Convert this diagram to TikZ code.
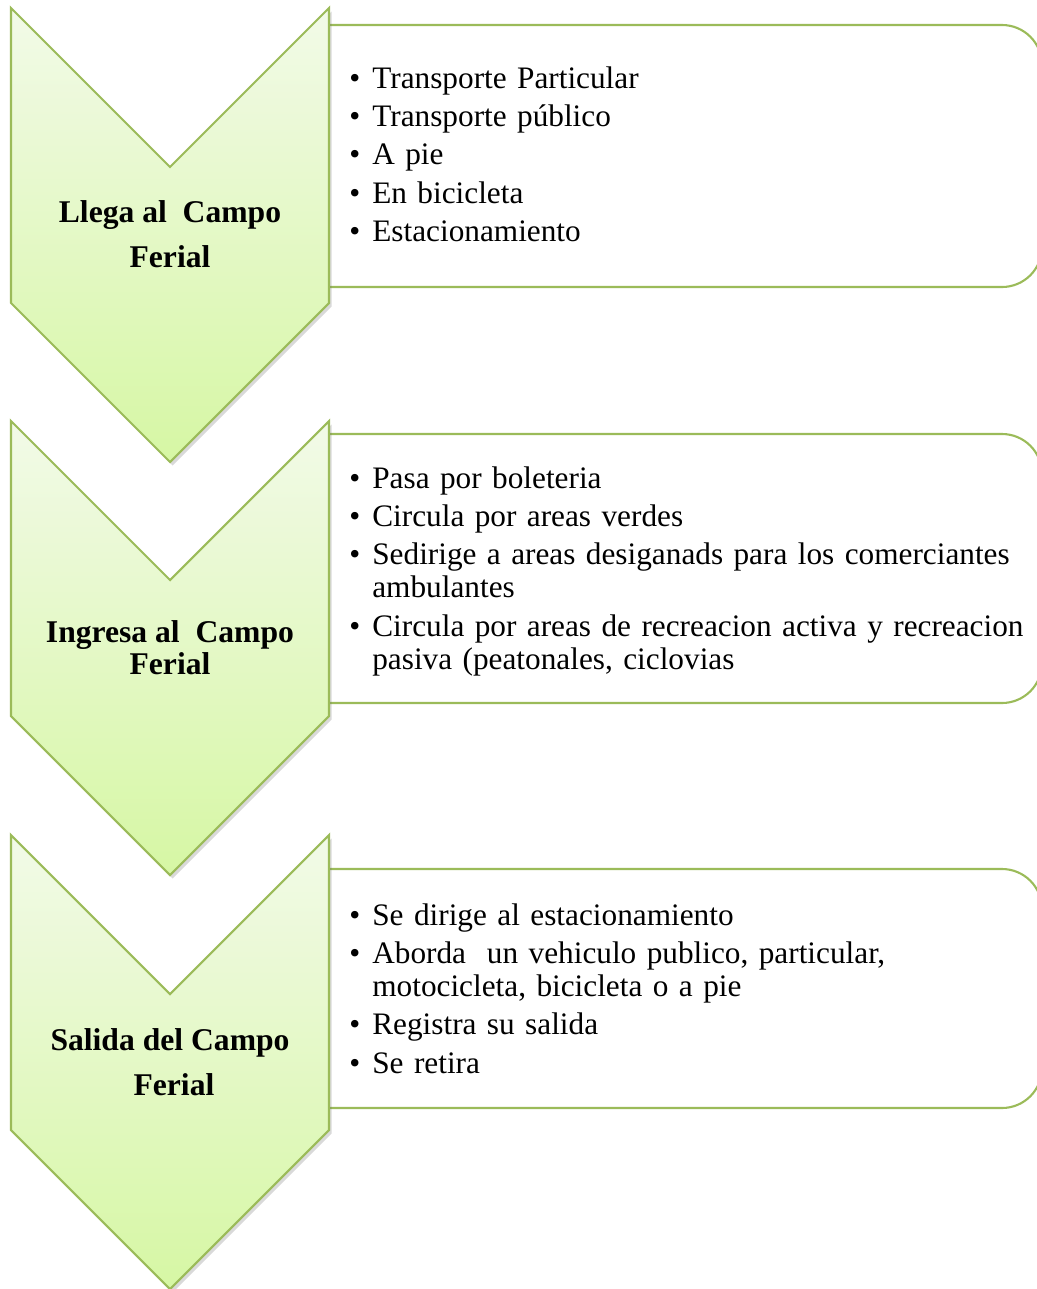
\documentclass[tikz,border=0pt]{standalone}
\usepackage{fontspec}
\setmainfont{Liberation Serif}
\usetikzlibrary{shadows}
\definecolor{chevline}{RGB}{155,187,89}
\definecolor{chevtop}{RGB}{242,250,232}
\definecolor{chevbot}{RGB}{214,247,164}
\tikzset{
  chev/.style={draw=chevline, line width=1.2pt, top color=chevtop, bottom color=chevbot,
    drop shadow={shadow xshift=1.5pt, shadow yshift=-2pt, opacity=.25, fill=black!60}},
  listbox/.style={draw=chevline, line width=1.2pt, rounded corners=0.8cm},
  steplabel/.style={font=\fontsize{18}{18.2}\selectfont\bfseries, align=center, anchor=base},
  itemlist/.style={font=\fontsize{17.8}{18.8}\selectfont, text width=14cm, align=left,
    anchor=base west, inner sep=0pt}
}
% chevron whose top corners sit at y=#1 (px)
\def\chevron(#1){\draw[chev] (11,#1) -- (170,#1+159) -- (329,#1) -- (329,#1+295)
  -- (170,#1+454) -- (11,#1+295) -- cycle;}
% box on the right, top at #1, bottom at #2
\def\listframe(#1:#2){\draw[listbox] (329,#1) -- (1042,#1) -- (1042,#2) -- (329,#2);}
\newcommand\itm{\makebox[0.46cm][l]{\textbullet}}
\newcommand\cont{\hspace*{0.46cm}}

\begin{document}
\begin{tikzpicture}[x=0.02cm,y=-0.02cm]
			%%%%% START %%%%%
			\useasboundingbox (0,0) rectangle (1037,1289);
			
			\listframe(25:287)
			\listframe(434:703)
			\listframe(869:1108)
			
			\chevron(8)
			\chevron(421)
			\chevron(835)
			
			% base of these labels is the last line
			\node[steplabel] (llega) at (170,267) {Llega al\ \ Campo\\[7.4pt] Ferial};
			\node[steplabel] (ingresa) at (170,674) {Ingresa al\ \ Campo\\ Ferial};
			\node[steplabel] (salida) at (170,1095) {Salida del Campo\\[7.4pt] \hspace*{4.5pt}Ferial};
			
			\node[itemlist] (llegalist) at (349,88) {\itm Transporte Particular\\[3.1pt]
				\itm Transporte público\\[3.1pt]
				\itm A pie\\[3.1pt]
				\itm En bicicleta\\[3.1pt]
				\itm Estacionamiento};
			
			\node[itemlist] (ingresalist) at (349,488) {\itm Pasa por boleteria\\[3.1pt]
				\itm Circula por areas verdes\\[3.1pt]
				\itm Sedirige a areas desiganads para los comerciantes\\
				\cont ambulantes\\[3.1pt]
				\itm Circula por areas de recreacion activa y recreacion\\
				\cont pasiva (peatonales, ciclovias};
			
			\node[itemlist] (salidalist) at (349,925) {\itm Se dirige al estacionamiento\\[3.1pt]
				\itm Aborda\ \ un vehiculo publico, particular,\\
				\cont motocicleta, bicicleta o a pie\\[3.1pt]
				\itm Registra su salida\\[3.1pt]
				\itm Se retira};
			
			%%%%% END %%%%%
\end{tikzpicture}
\end{document}
